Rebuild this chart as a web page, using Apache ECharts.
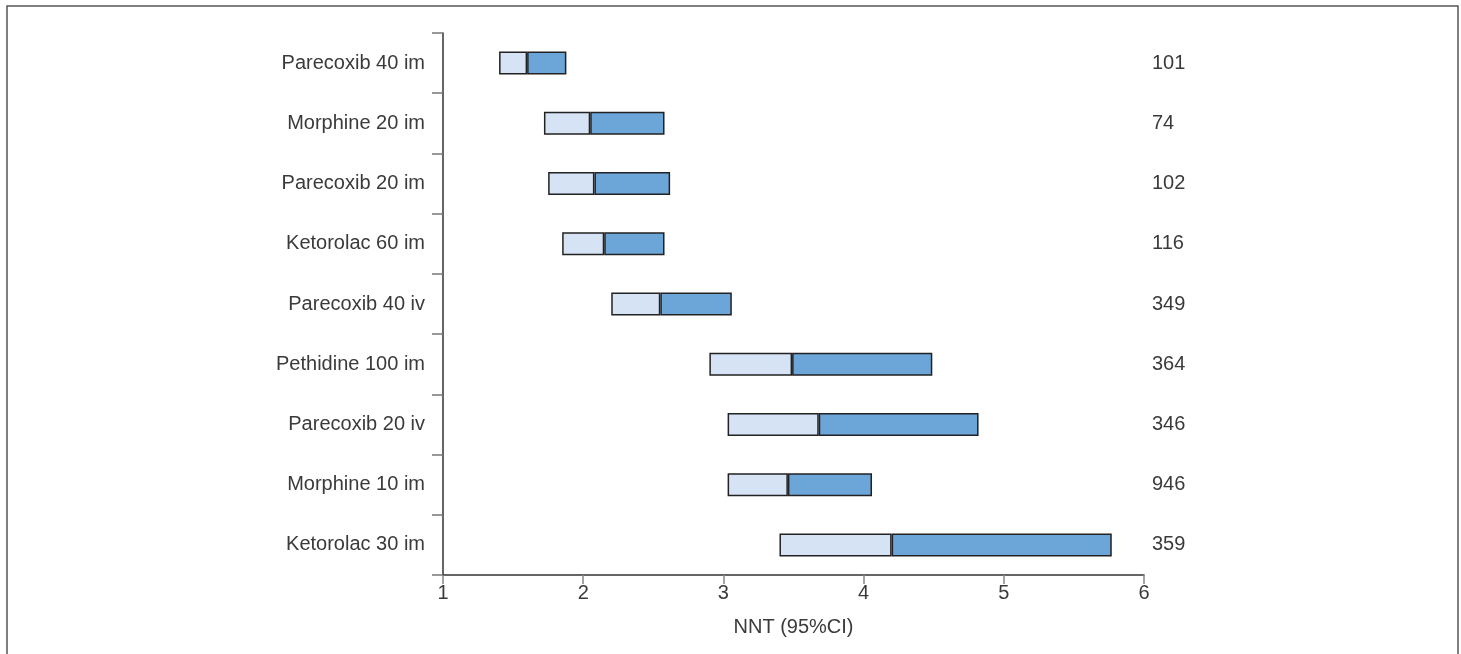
<!DOCTYPE html>
<html>
<head>
<meta charset="utf-8">
<script src="https://cdn.jsdelivr.net/npm/echarts@6/dist/echarts.min.js"></script>
<style>
html,body{margin:0;padding:0;background:#fff;}
#chart{width:1461px;height:654px;}
</style>
</head>
<body>
<div id="chart"></div>
<script>
const categories = ["Parecoxib 40 im","Morphine 20 im","Parecoxib 20 im","Ketorolac 60 im","Parecoxib 40 iv","Pethidine 100 im","Parecoxib 20 iv","Morphine 10 im","Ketorolac 30 im"];
const lowCI  = [1.40, 1.72, 1.75, 1.85, 2.20, 2.90, 3.03, 3.03, 3.40];
const nnt    = [1.60, 2.05, 2.08, 2.15, 2.55, 3.49, 3.68, 3.46, 4.20];
const highCI = [1.88, 2.58, 2.62, 2.58, 3.06, 4.49, 4.82, 4.06, 5.77];
const nPatients = ["101","74","102","116","349","364","346","946","359"];
const xTicks = [1, 2, 3, 4, 5, 6];

const lowerPart = nnt.map((v, i) => +(v - lowCI[i]).toFixed(3));
const upperPart = highCI.map((v, i) => +(v - nnt[i]).toFixed(3));

const font = 'Liberation Sans, Arial, Helvetica, sans-serif';
const chart = echarts.init(document.getElementById('chart'), null, {renderer: 'canvas'});
chart.setOption({
  animation: false,
  backgroundColor: '#fff',
  graphic: [{
    type: 'rect',
    shape: {x: 7, y: 6, width: 1451, height: 700},
    style: {fill: 'none', stroke: '#555', lineWidth: 1.5},
    silent: true
  }],
  grid: {left: 443, right: 317, top: 33, bottom: 79, containLabel: false},
  xAxis: {
    type: 'value', min: xTicks[0], max: xTicks[xTicks.length - 1], interval: 1,
    name: 'NNT (95%CI)', nameLocation: 'middle', nameGap: 42,
    nameTextStyle: {fontFamily: font, fontSize: 20, color: '#3a3a3a'},
    axisLine: {show: true, lineStyle: {color: '#333', width: 1.5}},
    axisTick: {show: true, length: 9, lineStyle: {color: '#888', width: 1.5}},
    axisLabel: {fontFamily: font, fontSize: 20, color: '#3a3a3a', margin: 8},
    splitLine: {show: false}
  },
  yAxis: [{
    type: 'category', data: categories, inverse: true,
    axisLine: {show: true, lineStyle: {color: '#333', width: 1.5}},
    axisTick: {show: true, length: 11, lineStyle: {color: '#777', width: 1.5}},
    axisLabel: {fontFamily: font, fontSize: 20, color: '#3a3a3a', margin: 18}
  }, {
    type: 'category', data: nPatients, inverse: true, position: 'right',
    axisLine: {show: false}, axisTick: {show: false},
    axisLabel: {fontFamily: font, fontSize: 20, color: '#3a3a3a', margin: 8}
  }],
  series: [{
    type: 'bar', stack: 'ci', data: lowCI, barWidth: 23,
    itemStyle: {color: 'transparent'}, silent: true
  }, {
    type: 'bar', stack: 'ci', data: lowerPart, barWidth: 23,
    itemStyle: {color: '#d5e3f4', borderColor: '#222', borderWidth: 1.5}
  }, {
    type: 'bar', stack: 'ci', data: upperPart, barWidth: 23,
    itemStyle: {color: '#6ca5d8', borderColor: '#222', borderWidth: 1.5}
  }]
});
</script>
</body>
</html>
